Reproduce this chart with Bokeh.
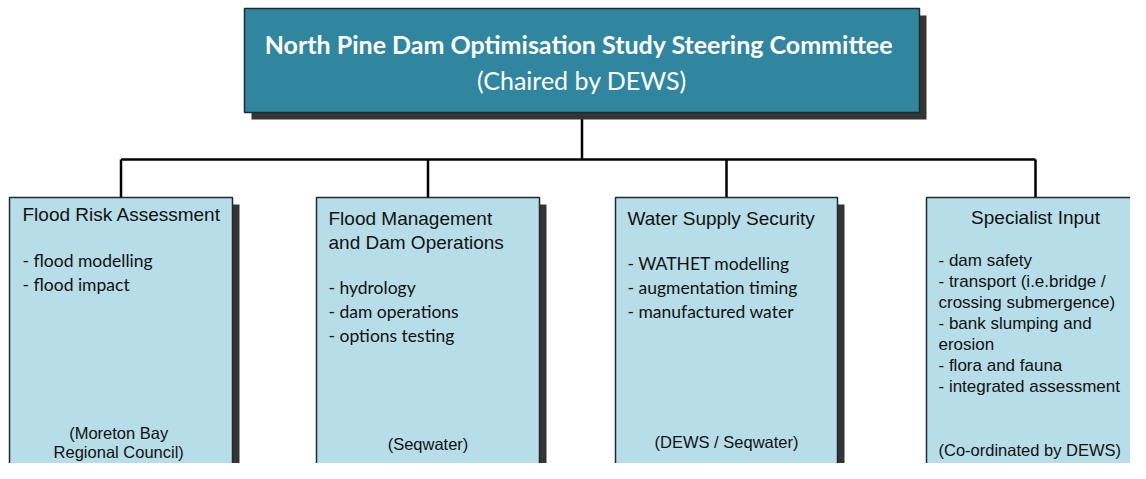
from bokeh.plotting import figure
from bokeh.models import Range1d
from bokeh.core.properties import value
from bokeh.embed import file_html
from bokeh.resources import INLINE

# ---- content ----
committee_title = "North Pine Dam Optimisation  Study Steering Committee"
committee_chair = "(Chaired by DEWS)"

group_titles = [
    ["Flood Risk Assessment"],
    ["Flood Management", "and Dam Operations"],
    ["Water Supply Security"],
    ["Specialist Input"],
]
group_items = [
    ["- flood modelling", "- flood impact"],
    ["- hydrology", "- dam operations", "- options testing"],
    ["- WATHET modelling", "- augmentation timing", "- manufactured water"],
    ["- dam safety", "- transport (i.e.bridge /", "crossing submergence)",
     "- bank slumping and", "erosion", "- flora and fauna",
     "- integrated  assessment"],
]
group_owners = [
    ["(Moreton  Bay", "Regional  Council)"],
    ["(Seqwater)"],
    ["(DEWS / Seqwater)"],
    ["(Co-ordinated  by DEWS)"],
]

# ---- layout (pixel-like coordinates) ----
top_box = (244, 919, 8, 112)
box_left = [9, 316, 615, 926]
box_right = [232, 539, 837, 1144]
box_top = 197
box_bottom = 476
bus_y = 159
shadow = 7

title_y = [214, 218, 218, 217]
title_align = ["left", "left", "left", "center"]
item_y0 = [260, 287, 263, 260]
item_dy = [24, 24, 24, 21]
owner_y = [[432, 451], [443], [441], [449]]
owner_align = ["center", "center", "center", "left"]
text_pad = [13, 12, 12, 12]

TEAL = "#31869F"
LIGHT = "#B7DDE8"
SHADOW = "#343434"
EDGE = "#1f2a2e"

p = figure(width=1130, height=463, x_range=Range1d(0, 1130), y_range=Range1d(463, 0),
           output_backend="svg", toolbar_location=None, min_border=0)
p.axis.visible = False
p.grid.visible = False
p.outline_line_color = None
p.background_fill_color = "white"
p.border_fill_color = "white"

# connectors
cx_top = (top_box[0] + top_box[1]) / 2
centers = [(l + r) / 2 for l, r in zip(box_left, box_right)]
p.segment(x0=[cx_top], y0=[top_box[3]], x1=[cx_top], y1=[bus_y], line_color="black", line_width=2.5)
p.segment(x0=[centers[0]], y0=[bus_y], x1=[centers[-1]], y1=[bus_y], line_color="black", line_width=2.5)
p.segment(x0=centers, y0=[bus_y] * 4, x1=centers, y1=[box_top] * 4, line_color="black", line_width=2.5)

# shadows
p.quad(left=[top_box[0] + shadow] + [l + shadow for l in box_left],
       right=[top_box[1] + shadow] + [r + shadow for r in box_right],
       top=[top_box[2] + shadow] + [box_top + shadow] * 4,
       bottom=[top_box[3] + shadow] + [box_bottom + shadow] * 4,
       fill_color=SHADOW, line_color=None)

# boxes
p.quad(left=[top_box[0]], right=[top_box[1]], top=[top_box[2]], bottom=[top_box[3]],
       fill_color=TEAL, line_color=EDGE, line_width=1.5)
p.quad(left=box_left, right=box_right, top=[box_top] * 4, bottom=[box_bottom] * 4,
       fill_color=LIGHT, line_color=EDGE, line_width=1.5)

# top box text
p.text(x=[cx_top], y=[43], text=[committee_title], text_color="white",
       text_font=value("Lato"), text_font_style="bold", text_font_size="25px",
       text_align="center", text_baseline="middle")
p.text(x=[cx_top], y=[79], text=[committee_chair], text_color="white",
       text_font=value("Lato"), text_font_size="25px",
       text_align="center", text_baseline="middle")

ARIAL = value("Liberation Sans")
CAL = value("Lato")

for i in range(4):
    lx = box_left[i] + text_pad[i]
    cx = centers[i]
    # titles
    xs = [cx if title_align[i] == "center" else lx] * len(group_titles[i])
    ys = [title_y[i] + 24 * k for k in range(len(group_titles[i]))]
    p.text(x=xs, y=ys, text=group_titles[i], text_color="#111111", text_font=ARIAL,
           text_font_size="19px", text_align=title_align[i], text_baseline="middle")
    # items
    ys = [item_y0[i] + item_dy[i] * k for k in range(len(group_items[i]))]
    if i < 3:
        p.text(x=[lx] * len(ys), y=ys, text=group_items[i], text_color="#111111",
               text_font=CAL, text_font_size="17.5px", text_align="left", text_baseline="middle")
    else:
        p.text(x=[lx] * len(ys), y=ys, text=group_items[i], text_color="#111111",
               text_font=ARIAL, text_font_size="17px", text_align="left", text_baseline="middle")
    # owners
    xs = [cx if owner_align[i] == "center" else lx] * len(group_owners[i])
    p.text(x=xs, y=owner_y[i], text=group_owners[i], text_color="#111111", text_font=ARIAL,
           text_font_size="16.5px", text_align=owner_align[i], text_baseline="middle")

open("out.html", "w").write(file_html(p, INLINE))
